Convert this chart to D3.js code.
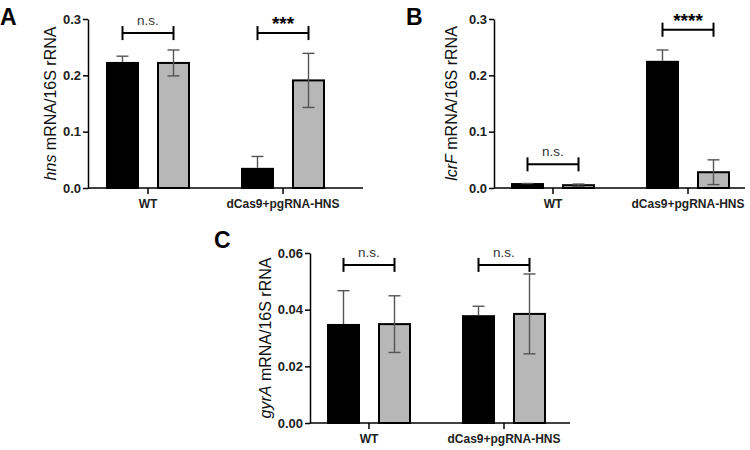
<!DOCTYPE html>
<html><head><meta charset="utf-8">
<script src="https://cdn.jsdelivr.net/npm/d3@7"></script>
<style>body{margin:0;background:#fff}svg{display:block}text{font-family:"Liberation Sans",Arial,sans-serif}</style>
</head><body><svg id="c" width="750" height="450"></svg>
<script>
const groups = ["WT", "dCas9+pgRNA-HNS"];
const seriesNames = ["black", "gray"];
// Panel A: hns
const hnsMean = [[0.222, 0.222], [0.034, 0.191]];
const hnsErr  = [[0.012, 0.023], [0.022, 0.048]];
const hnsTicks = [0, 0.1, 0.2, 0.3];
const hnsSig = ["n.s.", "***"];
const hnsSigY = [0.275, 0.275];
// Panel B: lcrF
const lcrMean = [[0.007, 0.005], [0.224, 0.028]];
const lcrErr  = [[0.001, 0.002], [0.021, 0.022]];
const lcrTicks = [0, 0.1, 0.2, 0.3];
const lcrSig = ["n.s.", "****"];
const lcrSigY = [0.042, 0.281];
// Panel C: gyrA
const gyrMean = [[0.0346, 0.0349], [0.0377, 0.0385]];
const gyrErr  = [[0.0121, 0.0100], [0.0035, 0.0141]];
const gyrTicks = [0, 0.02, 0.04, 0.06];
const gyrSig = ["n.s.", "n.s."];
const gyrSigY = [0.0558, 0.0558];

const svg = d3.select("#c");
const fills = {black: "#000", gray: "#b7b7b7"};

function panel(o) {
  const g = svg.append("g");
  const y = d3.scaleLinear().domain([0, o.ymax]).range([o.y0, o.y1]);
  const x = d3.scalePoint().domain(groups).range(o.gx);
  const inner = d3.scaleBand().domain(seriesNames).range([-42, 42]).paddingInner(0.353);
  const bw = inner.bandwidth();
  groups.forEach((grp, gi) => {
    seriesNames.forEach((s, si) => {
      const v = o.mean[gi][si], e = o.err[gi][si];
      const cx = x(grp) + inner(s) + bw / 2;
      g.append("rect").attr("x", x(grp) + inner(s) + 1).attr("width", bw - 2)
        .attr("y", y(v)).attr("height", y(0) - y(v))
        .attr("fill", fills[s]).attr("stroke", "#000").attr("stroke-width", 2);
      const eg = g.append("g").attr("stroke", "#555").attr("stroke-width", 1.4);
      if (s === "gray") {
        eg.append("line").attr("x1", cx).attr("x2", cx).attr("y1", y(v + e)).attr("y2", y(Math.max(0, v - e)));
        eg.append("line").attr("x1", cx - 6).attr("x2", cx + 6).attr("y1", y(v - e)).attr("y2", y(v - e));
      } else {
        eg.append("line").attr("x1", cx).attr("x2", cx).attr("y1", y(v + e)).attr("y2", y(v) - 1);
      }
      eg.append("line").attr("x1", cx - 6).attr("x2", cx + 6).attr("y1", y(v + e)).attr("y2", y(v + e));
    });
    const xa = x(grp) + inner("black") + bw / 2, xb = x(grp) + inner("gray") + bw / 2;
    const by = y(o.sigY[gi]);
    const bg = g.append("g").attr("stroke", "#000").attr("stroke-width", 2);
    bg.append("line").attr("x1", xa).attr("x2", xb).attr("y1", by).attr("y2", by);
    bg.append("line").attr("x1", xa).attr("x2", xa).attr("y1", by - 7).attr("y2", by + 7);
    bg.append("line").attr("x1", xb).attr("x2", xb).attr("y1", by - 7).attr("y2", by + 7);
    const star = o.sig[gi] !== "n.s.";
    g.append("text").attr("x", (xa + xb) / 2).attr("y", star ? by - 3 : by - 8)
      .attr("text-anchor", "middle").attr("font-size", star ? 19 : 13.5)
      .attr("font-weight", star ? "bold" : "normal").attr("fill", star ? "#000" : "#333")
      .text(o.sig[gi]);
  });
  const ya = g.append("g").attr("transform", `translate(${o.ax},0)`)
    .call(d3.axisLeft(y).tickValues(o.ticks).tickFormat(d3.format(o.fmt)).tickSize(5).tickSizeOuter(0));
  ya.select(".domain").attr("stroke-width", 1.5);
  ya.selectAll(".tick line").attr("stroke-width", 1.5);
  ya.selectAll(".tick text").attr("font-size", 13).attr("font-weight", "bold").attr("fill", "#222")
    .attr("font-family", "Liberation Sans, Arial, sans-serif").attr("x", -7);
  const xa = g.append("g").attr("transform", `translate(0,${o.y0})`);
  xa.append("line").attr("x1", o.ax).attr("x2", o.xend).attr("stroke", "#000").attr("stroke-width", 1.5);
  groups.forEach(grp => {
    xa.append("line").attr("x1", x(grp)).attr("x2", x(grp)).attr("y1", 0).attr("y2", 6).attr("stroke", "#000").attr("stroke-width", 1.5);
    xa.append("text").attr("x", x(grp)).attr("y", 20).attr("text-anchor", "middle")
      .attr("font-size", 12).attr("font-weight", "bold").attr("fill", "#222").text(grp);
  });
  const t = g.append("text").attr("transform", `translate(${o.tx},${(o.y0 + o.y1) / 2}) rotate(-90)`)
    .attr("text-anchor", "middle").attr("dy", "0.35em").attr("font-size", 16).attr("fill", "#111");
  t.append("tspan").attr("font-style", "italic").text(o.gene);
  t.append("tspan").text(" mRNA/16S rRNA");
  g.append("text").attr("x", o.lx).attr("y", o.ly).attr("font-size", 23).attr("font-weight", "bold").text(o.letter);
}

panel({mean: hnsMean, err: hnsErr, ticks: hnsTicks, sig: hnsSig, sigY: hnsSigY, ymax: 0.3, fmt: ".1f",
  y0: 188, y1: 19, ax: 88, xend: 363, gx: [148, 283], tx: 50, gene: "hns", letter: "A", lx: 0, ly: 25});
panel({mean: lcrMean, err: lcrErr, ticks: lcrTicks, sig: lcrSig, sigY: lcrSigY, ymax: 0.3, fmt: ".1f",
  y0: 188, y1: 19, ax: 494, xend: 745, gx: [553, 688], tx: 451, gene: "lcrF", letter: "B", lx: 406, ly: 25});
panel({mean: gyrMean, err: gyrErr, ticks: gyrTicks, sig: gyrSig, sigY: gyrSigY, ymax: 0.06, fmt: ".2f",
  y0: 423, y1: 253, ax: 310, xend: 570, gx: [369, 504], tx: 265, gene: "gyrA", letter: "C", lx: 214, ly: 248});
</script></body></html>
